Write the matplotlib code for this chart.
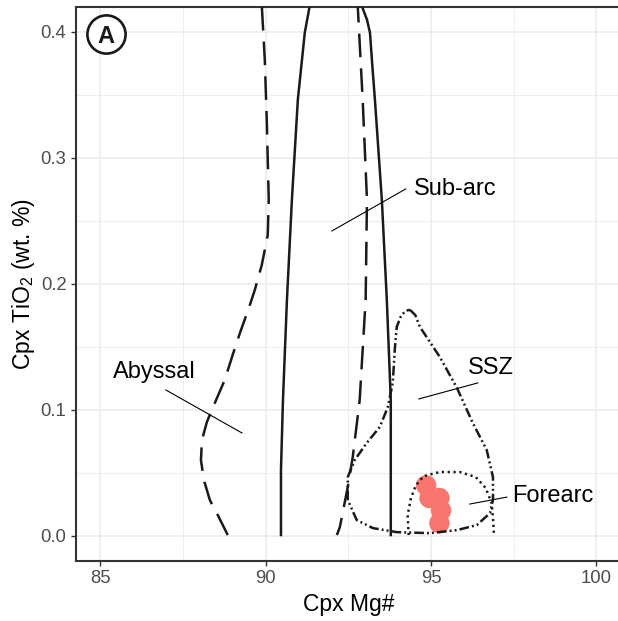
import matplotlib
matplotlib.use("Agg")
import matplotlib.pyplot as plt
import numpy as np

plt.rcParams['font.family'] = ['Liberation Sans', 'DejaVu Sans']
plt.rcParams['mathtext.fontset'] = 'custom'
plt.rcParams['mathtext.rm'] = 'Liberation Sans'
plt.rcParams['mathtext.it'] = 'Liberation Sans:italic'
plt.rcParams['lines.scale_dashes'] = False

# ---- data (Cpx Mg#, Cpx TiO2 wt.%) ----
abyssal_x = [88.85, 88.55, 88.31, 88.13, 88.04, 88.07, 88.22, 88.46, 88.76, 89.00, 89.22,
             89.49, 89.67, 89.88, 90.06, 90.09, 90.03, 89.97, 89.88, 89.85,
             92.70, 92.78, 92.93, 93.06, 93.02, 92.84, 92.63, 92.48, 92.24, 92.15]
abyssal_y = [0.0006, 0.0164, 0.0283, 0.0442, 0.0601, 0.0760, 0.0903, 0.1054, 0.1237, 0.1436, 0.1610,
             0.1809, 0.1952, 0.2150, 0.2388, 0.2666, 0.3300, 0.3778, 0.4207, 0.4350,
             0.4350, 0.4207, 0.3461, 0.2666, 0.1872, 0.1078, 0.0625, 0.0387, 0.0069, 0.0006]

subarc_x = [90.46, 90.46, 90.52, 90.64, 90.79, 90.97, 91.18, 91.33, 91.40,
            92.80, 92.90, 93.06, 93.15, 93.22, 93.30, 93.51, 93.66, 93.78, 93.78]
subarc_y = [0.0006, 0.0522, 0.1078, 0.1872, 0.2666, 0.3461, 0.3993, 0.4207, 0.4350,
            0.4350, 0.4207, 0.4096, 0.3993, 0.3738, 0.3461, 0.2666, 0.1872, 0.1078, 0.0006]

ssz_x = [94.36, 94.52, 94.66, 95.26, 95.78, 96.26, 96.68, 96.87, 96.87, 96.78, 96.38, 95.78, 94.96,
         93.96, 93.24, 92.75, 92.48, 92.48, 92.69, 93.05, 93.45, 93.69, 93.84, 93.90, 93.96,
         94.08, 94.22, 94.36]
ssz_y = [0.1793, 0.1752, 0.1658, 0.1420, 0.1174, 0.0895, 0.0681, 0.0466, 0.0284, 0.0180, 0.0085, 0.0045, 0.0021,
         0.0029, 0.0061, 0.0125, 0.0284, 0.0466, 0.0601, 0.0736, 0.0864, 0.1022, 0.1213, 0.1475, 0.1658,
         0.1738, 0.1785, 0.1793]

forearc_x = [94.32, 94.29, 94.39, 94.54, 94.78, 95.26, 95.87, 96.35, 96.65, 96.83, 96.87, 96.90]
forearc_y = [0.0006, 0.0164, 0.0299, 0.0402, 0.0474, 0.0506, 0.0506, 0.0466, 0.0379, 0.0260, 0.0141, 0.0006]

sample_mg = [94.85, 94.95, 95.25, 95.30, 95.25]
sample_ti = [0.040, 0.030, 0.030, 0.020, 0.010]

labels = ['Abyssal', 'Sub-arc', 'SSZ', 'Forearc']
label_x = [85.37, 94.48, 96.10, 97.45]
label_y = [0.130, 0.2755, 0.133, 0.0316]
leader_x0 = [86.98, 94.23, 96.41, 97.29]
leader_y0 = [0.1157, 0.2752, 0.1213, 0.0307]
leader_x1 = [89.28, 92.00, 94.63, 96.17]
leader_y1 = [0.0816, 0.2419, 0.1086, 0.0252]

xticks = [85, 90, 95, 100]
yticks = [0.0, 0.1, 0.2, 0.3, 0.4]

# ---- figure ----
fig = plt.figure(figsize=(6.18, 6.21), dpi=100)
ax = fig.add_axes([75.6 / 618, 60 / 621, 545.7 / 618, 554.5 / 621])
ax.set_xlim(84.25, 100.75)
ax.set_ylim(-0.02, 0.42)

ax.set_xticks(xticks)
ax.set_xticklabels([str(t) for t in xticks])
ax.set_yticks(yticks)
ax.set_yticklabels([f"{t:.1f}" for t in yticks])
ax.set_xticks([87.5, 92.5, 97.5], minor=True)
ax.set_yticks([0.05, 0.15, 0.25, 0.35], minor=True)
ax.grid(which='major', color='#ebebeb', lw=1.1, zorder=0)
ax.grid(which='minor', color='#ebebeb', lw=0.6, zorder=0)
ax.set_axisbelow(True)
ax.tick_params(which='minor', length=0)
ax.tick_params(which='major', length=3.6, width=1.0, color='#333333',
               labelsize=13.3, labelcolor='#4d4d4d', pad=3)
for s in ax.spines.values():
    s.set_color('#333333')
    s.set_linewidth(1.5)

# samples
ax.scatter(sample_mg, sample_ti, s=215, color='#F8766D', edgecolors='none', zorder=3)

# fields
l, = ax.plot(abyssal_x, abyssal_y, color='#1a1a1a', lw=1.8, zorder=4)
l.set_dashes((17, 8))
ax.plot(subarc_x, subarc_y, color='#1a1a1a', lw=1.8, zorder=4)
l, = ax.plot(ssz_x, ssz_y, color='#1a1a1a', lw=1.8, zorder=4)
l.set_dashes((7, 2.2, 1.4, 2.2, 1.4, 2.2))
l, = ax.plot(forearc_x, forearc_y, color='#1a1a1a', lw=1.8, zorder=4)
l.set_dashes((1.6, 2.6))

# labels and leader lines
for t, x, y, x0, y0, x1, y1 in zip(labels, label_x, label_y, leader_x0, leader_y0, leader_x1, leader_y1):
    ax.plot([x0, x1], [y0, y1], color='black', lw=0.8, zorder=5)
    ax.text(x, y, t, fontsize=17, ha='left', va='center', color='black', zorder=6)

# panel tag
ax.plot([85.16], [0.3985], marker='o', ms=27.5, mfc='white', mec='#1a1a1a', mew=1.9, zorder=7,
        clip_on=False)
ax.text(85.16, 0.3985, 'A', fontsize=17, fontweight='bold', ha='center', va='center_baseline',
        color='#1a1a1a', zorder=8)

ax.set_xlabel('Cpx Mg#', fontsize=16.5, labelpad=4)
ax.set_ylabel('Cpx TiO$_2$ (wt. %)', fontsize=16.5, labelpad=2.5)

fig.savefig('out.png', dpi=100)
